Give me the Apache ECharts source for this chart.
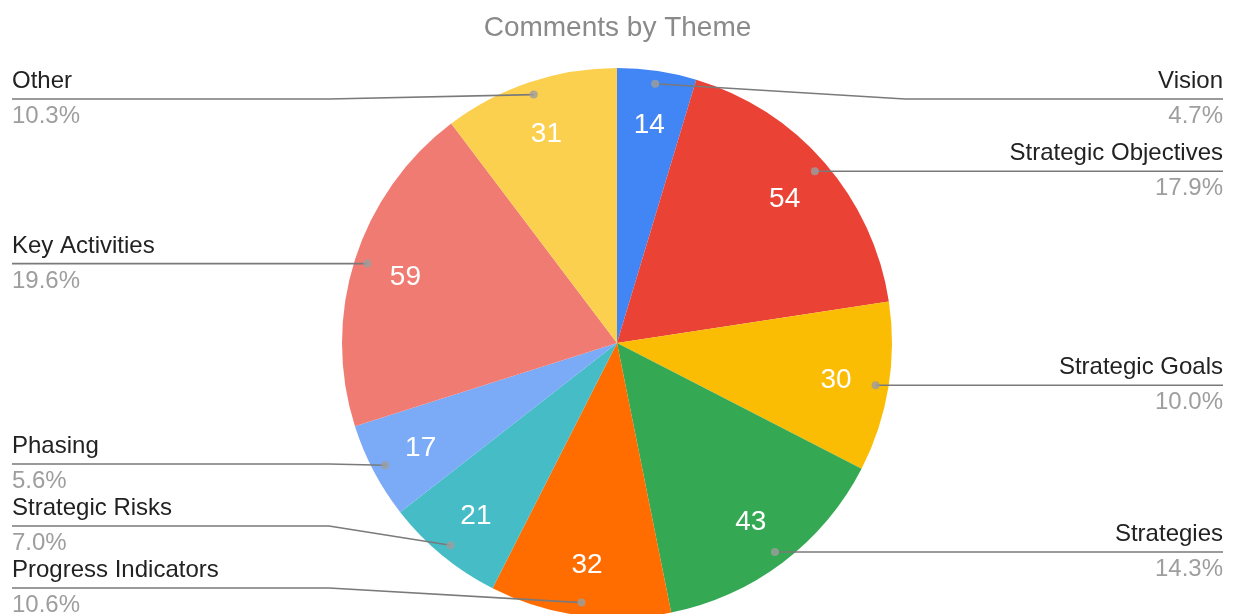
<!DOCTYPE html>
<html>
<head>
<meta charset="utf-8">
<script src="https://cdn.jsdelivr.net/npm/echarts@6/dist/echarts.min.js"></script>
<style>
html, body { margin: 0; padding: 0; background: #fff; }
#main { width: 1235px; height: 614px; }
</style>
</head>
<body>
<div id="main"></div>
<script>
var themes = ['Vision', 'Strategic Objectives', 'Strategic Goals', 'Strategies', 'Progress Indicators', 'Strategic Risks', 'Phasing', 'Key Activities', 'Other'];
var counts = [14, 54, 30, 43, 32, 21, 17, 59, 31];
var colors = ['#4285f4', '#ea4335', '#fbbc04', '#34a853', '#ff6d01', '#46bdc6', '#7baaf7', '#f07b72', '#fcd04f'];

var FONT = '"Liberation Sans", Arial, sans-serif';
var CX = 617, CY = 343, R = 275, R_DOT = 262, ELBOW = 288;
var LABEL_TOP = 99, LABEL_BOTTOM = 588, LABEL_GAP = 62;

var total = counts.reduce(function (a, b) { return a + b; }, 0);

// middle of each slice (data units)
var mids = [];
var acc = 0;
counts.forEach(function (v) { mids.push(acc + v / 2); acc += v; });

// where the leader line starts, and where the label sits
var dots = mids.map(function (m) {
    var a = m / total * Math.PI * 2;
    return [CX + R_DOT * Math.sin(a), CY - R_DOT * Math.cos(a)];
});
var labelY = dots.map(function (d) { return Math.min(LABEL_BOTTOM, Math.max(LABEL_TOP, d[1])); });
[true, false].forEach(function (right) {
    var idx = dots.map(function (d, i) { return i; })
        .filter(function (i) { return (dots[i][0] >= CX) === right; })
        .sort(function (a, b) { return labelY[b] - labelY[a]; });
    for (var k = 1; k < idx.length; k++) {
        labelY[idx[k]] = Math.min(labelY[idx[k]], labelY[idx[k - 1]] - LABEL_GAP);
    }
});

var pieData = themes.map(function (n, i) {
    return { name: n, value: counts[i] };
});

var myChart = echarts.init(document.getElementById('main'));
var option = {
    backgroundColor: '#fff',
    textStyle: { fontFamily: FONT },
    title: {
        text: 'Comments by Theme',
        left: 'center',
        top: 9,
        textStyle: { fontFamily: FONT, fontSize: 28, fontWeight: 'normal', color: '#8a8a8a' }
    },
    polar: { center: [CX, CY], radius: R },
    angleAxis: {
        type: 'value', min: 0, max: total, startAngle: 90, clockwise: true,
        show: false, axisLine: { show: false }, splitLine: { show: false }, axisLabel: { show: false }, axisTick: { show: false }
    },
    radiusAxis: {
        type: 'value', min: 0, max: R,
        show: false, axisLine: { show: false }, splitLine: { show: false }, axisLabel: { show: false }, axisTick: { show: false }
    },
    series: [{
        // slices
        type: 'pie',
        center: [CX, CY],
        radius: [0, R],
        startAngle: 90,
        clockwise: true,
        silent: true,
        z: 2,
        data: pieData.map(function (d, i) {
            return { name: d.name, value: d.value, itemStyle: { color: colors[i] } };
        }),
        label: { show: false },
        labelLine: { show: false }
    }, {
        // outside labels with leader lines, drawn over the slices
        type: 'pie',
        center: [CX, CY],
        radius: [0, R],
        startAngle: 90,
        clockwise: true,
        silent: true,
        z: 3,
        avoidLabelOverlap: false,
        data: pieData,
        itemStyle: { color: 'rgba(0,0,0,0)' },
        label: {
            show: true,
            position: 'outer',
            alignTo: 'edge',
            edgeDistance: 12,
            formatter: function (p) {
                return '{n|' + p.name + '}\n{p|' + (p.value / total * 100).toFixed(1) + '%}';
            },
            rich: {
                n: { fontFamily: FONT, fontSize: 24, color: '#222', lineHeight: 35 },
                p: { fontFamily: FONT, fontSize: 24, color: '#9e9e9e', lineHeight: 35 }
            }
        },
        labelLine: { show: true, length: 0, length2: 10, lineStyle: { color: '#7a7a7a', width: 1.6 } },
        labelLayout: function (p) {
            var i = p.dataIndex;
            var right = dots[i][0] >= CX;
            var y = labelY[i];
            var ex = right ? 1235 - 12 : 12;
            return {
                y: y,
                labelLinePoints: [dots[i].slice(), [CX + (right ? 1 : -1) * ELBOW, y], [ex, y]]
            };
        },
        emphasis: { disabled: true }
    }, {
        // value labels inside the slices
        type: 'pie',
        center: [CX, CY],
        radius: [163, R],
        startAngle: 90,
        clockwise: true,
        silent: true,
        z: 4,
        data: pieData,
        itemStyle: { color: 'rgba(0,0,0,0)' },
        label: {
            show: true,
            position: 'inside',
            formatter: '{c}',
            fontFamily: FONT,
            fontSize: 28,
            color: '#fff',
            offset: [0, 2]
        },
        labelLine: { show: false },
        emphasis: { disabled: true }
    }, {
        // dots where the leader lines start
        type: 'scatter',
        coordinateSystem: 'polar',
        silent: true,
        z: 5,
        symbol: 'circle',
        symbolSize: 8,
        itemStyle: { color: '#9e9e9e' },
        data: mids.map(function (m) { return [R_DOT, m]; })
    }]
};
myChart.setOption(option);
</script>
</body>
</html>
